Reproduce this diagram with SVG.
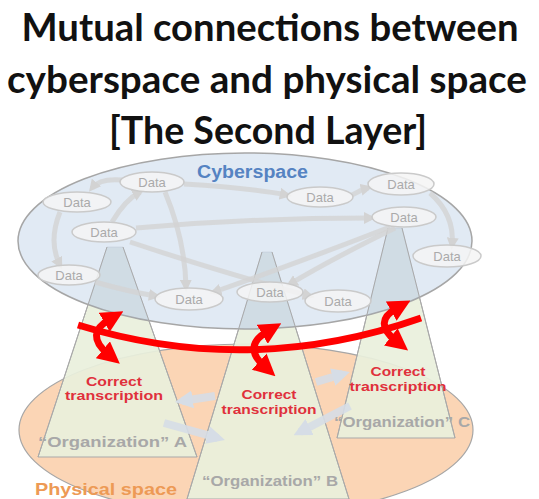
<svg xmlns="http://www.w3.org/2000/svg" width="539" height="499" viewBox="0 0 539 499">
<style>
.title{font-family:Lato,"Open Sans","Liberation Sans",sans-serif;font-weight:700;font-size:38px;fill:#111}
.data{fill:#f4f4f4;fill-opacity:0.85;stroke:#cacaca;stroke-width:1.5}
.dtxt{font-family:"Liberation Sans",Arial,sans-serif;font-size:13px;fill:#aaaaaa;text-anchor:middle}
.cone{fill:#e9f0dc;fill-opacity:0.92;stroke:#a9a9a9;stroke-width:1}
.coneshade{fill:#9fb3c6;fill-opacity:0.22;stroke:none}
.coneline{fill:none;stroke:#a9a9a9;stroke-width:1}
.link{fill:none;stroke:#d3d3d3;stroke-width:5;stroke-opacity:0.8}
.red{fill:none;stroke:#ff0000;stroke-width:7}
.ct{font-family:"Liberation Sans",Arial,sans-serif;font-weight:700;font-size:13px;fill:#e0303c;text-anchor:middle}
.org{font-family:"Liberation Sans",Arial,sans-serif;font-weight:700;font-size:14px;fill:#a8a8a8}
.oarrow{fill:none;stroke:#d6dde6;stroke-width:8;stroke-opacity:0.9}
</style>
<defs>
<marker id="rh" viewBox="0 0 10 10" refX="3" refY="5" markerUnits="userSpaceOnUse" markerWidth="22" markerHeight="22" orient="auto-start-reverse">
<path d="M0,0 L10,5 L0,10 z" fill="#ff0000"/>
</marker>
<marker id="gh" viewBox="0 0 10 10" refX="6" refY="5" markerUnits="userSpaceOnUse" markerWidth="12" markerHeight="12" orient="auto">
<path d="M0,0 L10,5 L0,10 z" fill="#d3d3d3"/>
</marker>
<marker id="oh" viewBox="0 0 10 10" refX="6" refY="5" markerUnits="userSpaceOnUse" markerWidth="18" markerHeight="18" orient="auto">
<path d="M0,0 L10,5 L0,10 z" fill="#d6dde6"/>
</marker>
<clipPath id="cyberclip"><ellipse cx="245" cy="241" rx="227" ry="88"/></clipPath>
</defs>

<g id="title">
<text class="title" x="270" y="41" text-anchor="middle" textLength="497" lengthAdjust="spacingAndGlyphs">Mutual connections between</text>
<text class="title" x="267" y="93" text-anchor="middle" textLength="520" lengthAdjust="spacingAndGlyphs">cyberspace and physical space</text>
<text class="title" x="268" y="144" text-anchor="middle" textLength="318" lengthAdjust="spacingAndGlyphs">[The Second Layer]</text>
</g>

<g id="physical-space">
<ellipse cx="246" cy="430" rx="227" ry="86" fill="#fbd5b5" stroke="#a6a6a6" stroke-width="1.2"/>
<text x="35" y="495" font-family="Liberation Sans, Arial, sans-serif" font-weight="700" font-size="17" fill="#ed9a55" textLength="142" lengthAdjust="spacingAndGlyphs">Physical space</text>
</g>

<g id="cones">
<polygon id="cone-a" class="cone" points="107,247 123,247 197,457 38,457"/>
<polygon id="cone-c" class="cone" points="388,228 402,228 455,438 337,438"/>
<polygon id="cone-b" class="cone" points="262,252 272,252 349,499 187,499"/>
</g>

<g id="cyberspace">
<ellipse cx="245" cy="241" rx="227" ry="88" fill="#dbe5f1" fill-opacity="0.82" stroke="#a6a6a6" stroke-width="1.5"/>
<g clip-path="url(#cyberclip)">
<polygon class="coneshade" points="107,247 123,247 197,457 38,457"/>
<polygon class="coneshade" points="388,228 402,228 455,438 337,438"/>
<polygon class="coneshade" points="262,252 272,252 349,499 187,499"/>
</g>
<text x="197" y="178" font-family="Liberation Sans, Arial, sans-serif" font-weight="700" font-size="18" fill="#5583c2" textLength="111" lengthAdjust="spacingAndGlyphs">Cyberspace</text>
</g>

<g id="cone-outlines">
<path class="coneline" d="M107,247 L38,457 M123,247 L197,457"/>
<path class="coneline" d="M388,228 L337,438 M402,228 L455,438"/>
<path class="coneline" d="M262,252 L187,499 M272,252 L349,499"/>
</g>

<g id="connectors">
<path class="link" d="M122,180 Q100,178 92,188" marker-end="url(#gh)"/>
<path class="link" d="M184,184 Q250,188 287,195" marker-end="url(#gh)"/>
<path class="link" d="M136,228 Q250,218 371,218" marker-end="url(#gh)"/>
<path class="link" d="M130,242 Q230,275 310,296" marker-end="url(#gh)"/>
<path class="link" d="M60,212 Q48,242 60,265" marker-end="url(#gh)"/>
<path class="link" d="M390,227 Q300,262 214,292" marker-end="url(#gh)"/>
<path class="link" d="M395,228 Q330,260 290,284" marker-end="url(#gh)"/>
<path class="link" d="M430,193 Q455,215 452,245" marker-end="url(#gh)"/>
<path class="link" d="M165,192 Q185,240 186,287" marker-end="url(#gh)"/>
<path class="link" d="M352,195 Q360,190 368,188" marker-end="url(#gh)"/>
<path class="link" d="M95,282 Q130,292 156,296" marker-end="url(#gh)"/>
<path class="link" d="M112,222 Q125,200 140,192" marker-end="url(#gh)"/>
</g>

<g id="data-nodes">
<g id="d1"><ellipse class="data" cx="152" cy="182" rx="32" ry="10"/><text class="dtxt" x="152" y="187">Data</text></g>
<g id="d2"><ellipse class="data" cx="77" cy="202" rx="34" ry="10"/><text class="dtxt" x="77" y="207">Data</text></g>
<g id="d3"><ellipse class="data" cx="104" cy="232" rx="32" ry="10"/><text class="dtxt" x="104" y="237">Data</text></g>
<g id="d4"><ellipse class="data" cx="69" cy="275" rx="31" ry="10"/><text class="dtxt" x="69" y="280">Data</text></g>
<g id="d5"><ellipse class="data" cx="189" cy="299" rx="34" ry="11"/><text class="dtxt" x="189" y="304">Data</text></g>
<g id="d6"><ellipse class="data" cx="270" cy="292" rx="33" ry="10"/><text class="dtxt" x="270" y="297">Data</text></g>
<g id="d7"><ellipse class="data" cx="338" cy="301" rx="33" ry="11"/><text class="dtxt" x="338" y="306">Data</text></g>
<g id="d8"><ellipse class="data" cx="320" cy="197" rx="33" ry="10"/><text class="dtxt" x="320" y="202">Data</text></g>
<g id="d9"><ellipse class="data" cx="401" cy="184" rx="33" ry="11"/><text class="dtxt" x="401" y="189">Data</text></g>
<g id="d10"><ellipse class="data" cx="404" cy="217" rx="32" ry="10"/><text class="dtxt" x="404" y="222">Data</text></g>
<g id="d11"><ellipse class="data" cx="447" cy="256" rx="34" ry="11"/><text class="dtxt" x="447" y="261">Data</text></g>
</g>

<g id="org-arrows">
<path class="oarrow" d="M215,396 L182,401" marker-end="url(#oh)"/>
<path class="oarrow" d="M164,423 L218,438" marker-end="url(#oh)"/>
<path class="oarrow" d="M316,382 L343,374" marker-end="url(#oh)"/>
<path class="oarrow" d="M350,406 L300,432" marker-end="url(#oh)"/>
</g>

<g id="red-arrows">
<path class="red" d="M78,325 Q250,378 421,318"/>
<path class="red" d="M108,354 Q84,334 110,319" marker-start="url(#rh)" marker-end="url(#rh)"/>
<path class="red" d="M264,366 Q242,346 268,331" marker-start="url(#rh)" marker-end="url(#rh)"/>
<path class="red" d="M396,341 Q372,322 397,308" marker-start="url(#rh)" marker-end="url(#rh)"/>
</g>

<g id="labels">
<text class="ct" x="114" y="386" textLength="56" lengthAdjust="spacingAndGlyphs">Correct</text>
<text class="ct" x="114" y="400" textLength="98" lengthAdjust="spacingAndGlyphs">transcription</text>
<text class="ct" x="269" y="399" textLength="55" lengthAdjust="spacingAndGlyphs">Correct</text>
<text class="ct" x="269" y="414" textLength="95" lengthAdjust="spacingAndGlyphs">transcription</text>
<text class="ct" x="398" y="376" textLength="55" lengthAdjust="spacingAndGlyphs">Correct</text>
<text class="ct" x="398" y="391" textLength="97" lengthAdjust="spacingAndGlyphs">transcription</text>
<text class="org" x="38" y="447" textLength="149" lengthAdjust="spacingAndGlyphs">“Organization” A</text>
<text class="org" x="202" y="486" textLength="136" lengthAdjust="spacingAndGlyphs">“Organization” B</text>
<text class="org" x="334" y="427" textLength="136" lengthAdjust="spacingAndGlyphs">“Organization” C</text>
</g>
</svg>
